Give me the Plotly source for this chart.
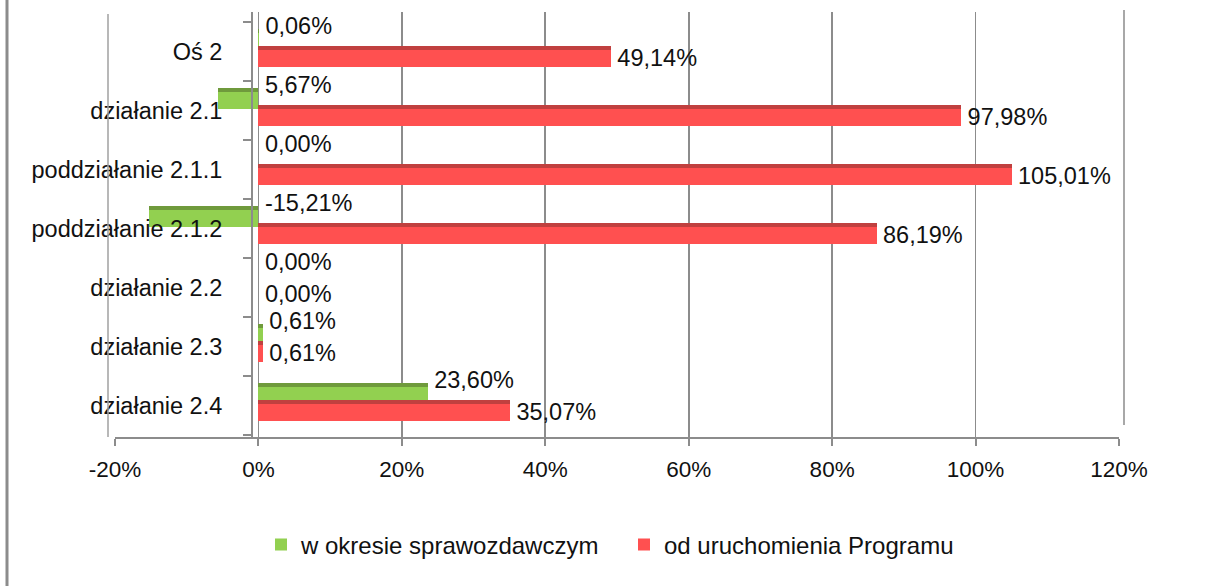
import plotly.graph_objects as go

# ---- data ----
categories = ["Oś 2", "działanie 2.1", "poddziałanie 2.1.1", "poddziałanie 2.1.2",
              "działanie 2.2", "działanie 2.3", "działanie 2.4"]
period = [0.06, -5.67, 0.00, -15.21, 0.00, 0.61, 23.60]
since_start = [49.14, 97.98, 105.01, 86.19, 0.00, 0.61, 35.07]
period_labels = ["0,06%", "5,67%", "0,00%", "-15,21%", "0,00%", "0,61%", "23,60%"]
since_labels = ["49,14%", "97,98%", "105,01%", "86,19%", "0,00%", "0,61%", "35,07%"]
x_ticks = [-20, 0, 20, 40, 60, 80, 100, 120]
x_tick_labels = ["-20%", "0%", "20%", "40%", "60%", "80%", "100%", "120%"]
series_names = ["w okresie sprawozdawczym", "od uruchomienia Programu"]

# ---- style ----
FONT = "Liberation Sans, Arial, sans-serif"
GREEN, GREEN_TOP = "#92D050", "#6F9A3C"
RED, RED_TOP = "#FF5050", "#C0403F"
GRID = "#8C8C8C"
TXT = "#111111"

idx = list(range(len(categories)))
y_green = [i - 0.21 for i in idx]
y_green_top = [i - 0.355 for i in idx]
y_red = [i + 0.08 for i in idx]
y_red_top = [i - 0.065 for i in idx]

fig = go.Figure()
fig.add_trace(go.Bar(x=period, y=y_green, orientation="h", width=0.36,
                     marker=dict(color=GREEN, line=dict(width=0)),
                     name=series_names[0], hoverinfo="skip"))
fig.add_trace(go.Bar(x=period, y=y_green_top, orientation="h", width=0.07,
                     marker=dict(color=GREEN_TOP, line=dict(width=0)),
                     showlegend=False, hoverinfo="skip"))
fig.add_trace(go.Bar(x=since_start, y=y_red, orientation="h", width=0.36,
                     marker=dict(color=RED, line=dict(width=0)),
                     name=series_names[1], hoverinfo="skip"))
fig.add_trace(go.Bar(x=since_start, y=y_red_top, orientation="h", width=0.07,
                     marker=dict(color=RED_TOP, line=dict(width=0)),
                     showlegend=False, hoverinfo="skip"))

fig.add_trace(go.Scatter(x=[max(v, 0) for v in period], y=[i - 0.40 for i in idx],
                         mode="text", text=[" " + t for t in period_labels],
                         textposition="middle right",
                         textfont=dict(family=FONT, size=23.5, color=TXT),
                         showlegend=False, hoverinfo="skip", cliponaxis=False))
fig.add_trace(go.Scatter(x=[max(v, 0) for v in since_start], y=[i + 0.14 for i in idx],
                         mode="text", text=[" " + t for t in since_labels],
                         textposition="middle right",
                         textfont=dict(family=FONT, size=23.5, color=TXT),
                         showlegend=False, hoverinfo="skip", cliponaxis=False))

W, H = 1207, 586
L, R, T, B = 115, 88, 12, 149
pw, ph = W - L - R, H - T - B

def px_x(p):
    return (p - L) / pw

def px_y(p):
    return (H - B - p) / ph

fig.update_layout(
    width=W, height=H,
    margin=dict(l=L, r=R, t=T, b=B, pad=0),
    paper_bgcolor="white", plot_bgcolor="white",
    barmode="overlay", bargap=0,
    font=dict(family=FONT, size=23, color=TXT),
    xaxis=dict(range=[-20, 120], tickvals=x_ticks, ticktext=x_tick_labels,
               showgrid=True, gridcolor=GRID, gridwidth=1.6, zeroline=False,
               showline=True, linecolor=GRID, linewidth=2,
               ticks="outside", ticklen=7, tickwidth=2, tickcolor=GRID,
               tickfont=dict(family=FONT, size=22.5, color=TXT),
               ticklabelstandoff=4, fixedrange=True),
    yaxis=dict(range=[6.53, -0.67], tickvals=idx, ticktext=categories,
               anchor="free", position=px_x(252),
               showgrid=False, zeroline=False,
               showline=True, linecolor=GRID, linewidth=2,
               ticks="", ticklabelstandoff=24,
               minor=dict(tickvals=[i - 0.5 for i in range(len(categories) + 1)],
                          ticks="outside", ticklen=8, tickwidth=2, tickcolor=GRID),
               tickfont=dict(family=FONT, size=23.5, color=TXT), fixedrange=True),
    legend=dict(orientation="h", x=px_x(261), xanchor="left",
                y=px_y(545), yanchor="middle",
                font=dict(family=FONT, size=24, color=TXT),
                bgcolor="rgba(0,0,0,0)", entrywidth=318, entrywidthmode="pixels",
                itemwidth=30),
    showlegend=True,
    shapes=[
        dict(type="line", xref="paper", yref="paper",
             x0=px_x(7), x1=px_x(7), y0=px_y(586), y1=px_y(0),
             line=dict(color="#8C8C8C", width=3)),
        dict(type="line", xref="paper", yref="paper",
             x0=px_x(108), x1=px_x(108), y0=px_y(437), y1=px_y(14),
             line=dict(color="#A0A0A0", width=1.5)),
        dict(type="line", xref="paper", yref="paper",
             x0=px_x(1124), x1=px_x(1124), y0=px_y(425), y1=px_y(10),
             line=dict(color="#A8A8A8", width=2)),
    ],
)

fig.write_html("out.html", config=dict(displayModeBar=False, staticPlot=True),
               post_script="document.body.style.margin='0';document.body.style.overflow='hidden';")
